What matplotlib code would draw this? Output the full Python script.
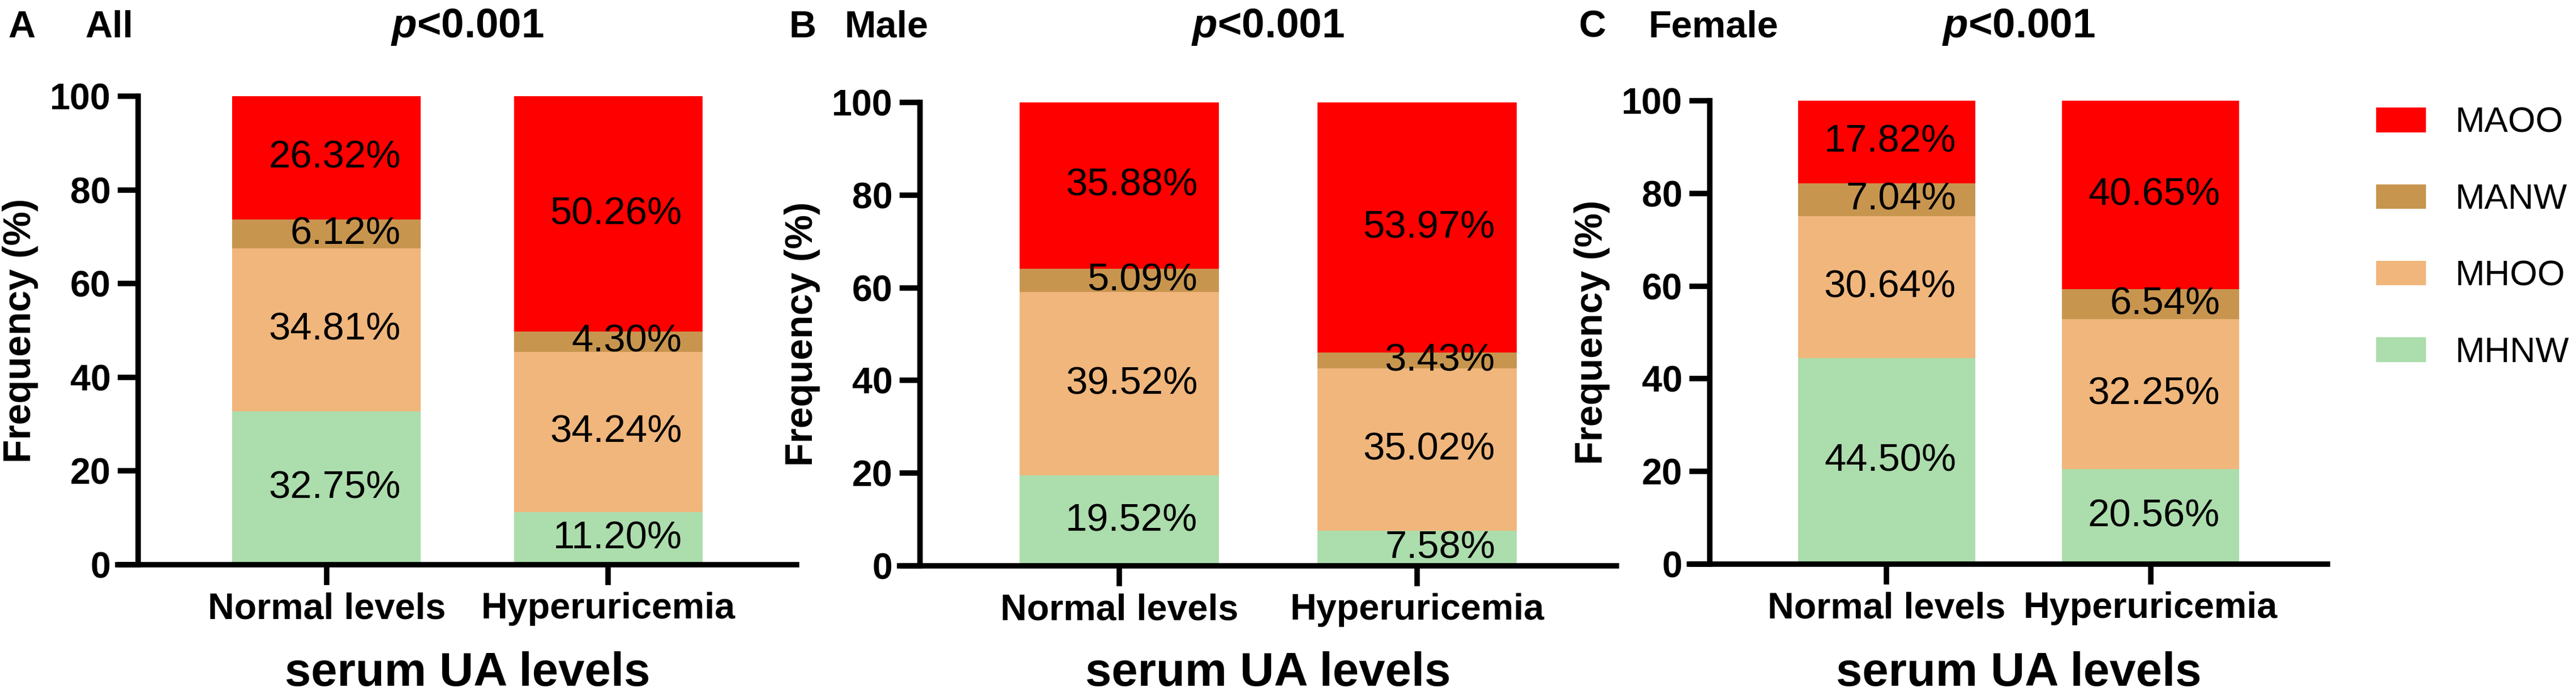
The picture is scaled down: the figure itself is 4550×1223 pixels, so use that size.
import numpy as np
import matplotlib
matplotlib.use('Agg')
import matplotlib.pyplot as plt

plt.rcParams['font.family'] = ['Liberation Sans', 'DejaVu Sans']
plt.rcParams['mathtext.fontset'] = 'custom'
plt.rcParams['mathtext.it'] = 'Liberation Sans:italic:bold'
plt.rcParams['mathtext.rm'] = 'Liberation Sans:bold'

groups = ['Normal levels', 'Hyperuricemia']
series = ['MHNW', 'MHOO', 'MANW', 'MAOO']
colors = ['#ACDDAC', '#F0B67C', '#C8954F', '#FF0000']

# rows follow series order, columns follow groups
all_vals = [[32.75, 11.20], [34.81, 34.24], [6.12, 4.30], [26.32, 50.26]]
male_vals = [[19.52, 7.58], [39.52, 35.02], [5.09, 3.43], [35.88, 53.97]]
female_vals = [[44.50, 20.56], [30.64, 32.25], [7.04, 6.54], [17.82, 40.65]]

W, H = 4550, 1223
fig = plt.figure(figsize=(W / 300, H / 300), dpi=300)


def rect(x0, y_top, x1, y_bot):
    return [x0 / W, 1 - y_bot / H, (x1 - x0) / W, (y_bot - y_top) / H]


panels = [
    ('A', 'All', all_vals, (244, 170, 1407, 998), 14, 150),
    ('B', 'Male', male_vals, (1625, 181, 2855, 1000), 1393, 1491),
    ('C', 'Female', female_vals, (3020, 178, 4111, 997), 2788, 2912),
]

x = np.arange(len(groups))
width = 0.67
lw = 2.3
xlo, xhi = -0.67, 1.67

for letter, name, vals, box, lx, nx in panels:
    ax = fig.add_axes(rect(*box))
    bottom = np.zeros(len(groups))
    for s, c, v in zip(series, colors, vals):
        v = np.array(v)
        ax.bar(x, v, width, bottom=bottom, color=c, label=s, linewidth=0)
        for i in range(len(groups)):
            ax.text(x[i] + 0.263, bottom[i] + v[i] / 2, f'{v[i]:.2f}%',
                    ha='right', va='center', fontsize=16.5)
        bottom += v

    wpx = box[2] - box[0]
    ax.set_xlim(xlo, xhi)
    ax.set_ylim(0, 100)
    ax.set_yticks(np.arange(0, 101, 20))
    ax.set_xticks(x)
    ax.set_xticklabels(groups)
    for sp in ['top', 'right']:
        ax.spines[sp].set_visible(False)
    for sp in ['left', 'bottom']:
        ax.spines[sp].set_linewidth(lw)
    # x axis line runs on past the y axis by one tick length
    ext = 36 * (xhi - xlo) / wpx
    ax.spines['bottom'].set_bounds(xlo - ext, xhi)
    ax.tick_params(labelsize=15.5, width=lw, length=8.6, pad=3)
    for t in ax.get_xticklabels() + ax.get_yticklabels():
        t.set_fontweight('bold')

    ax.set_ylabel('Frequency (%)', fontsize=16.3, fontweight='bold')
    ax.yaxis.set_label_coords(-176 / wpx, 0.5)

    cx = (box[0] + box[2]) / 2 / W
    fig.text(cx, 1 - 1212 / H, 'serum UA levels', ha='center', va='baseline',
             fontsize=20, fontweight='bold')
    fig.text(cx, 1 - 66 / H, '$p$<0.001', ha='center', va='baseline',
             fontsize=17.5, fontweight='bold')
    fig.text(lx / W, 1 - 66 / H, letter, ha='left', va='baseline',
             fontsize=16, fontweight='bold')
    fig.text(nx / W, 1 - 66 / H, name, ha='left', va='baseline',
             fontsize=16, fontweight='bold')

handles, labels = ax.get_legend_handles_labels()
fig.legend(handles[::-1], labels[::-1], loc='upper left',
           bbox_to_anchor=(4197 / W, 1 - 188 / H), frameon=False,
           fontsize=15, handlelength=1.41, handleheight=0.69,
           handletextpad=0.82, labelspacing=1.22, borderpad=0,
           borderaxespad=0)

fig.savefig('out.png', dpi=300)
